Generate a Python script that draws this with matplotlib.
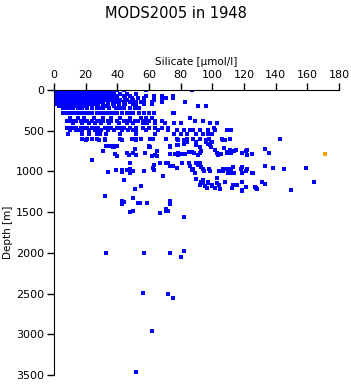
import numpy as np
import matplotlib
matplotlib.use("Agg")
import matplotlib.pyplot as plt

# standard-depth rows of the dense upper part: depth [m] -> silicate values
row_depths = [0, 10, 20, 30, 50, 75, 100, 125, 150, 175, 200, 225, 285,
              340, 385, 410, 460, 490, 540, 600, 640, 670, 690]
row_silicate = [
    [2, 4, 6, 8, 10, 12, 14, 16, 18, 20, 22, 24, 26, 28, 30, 32, 34, 37, 40, 44, 58, 87],
    [2, 4, 6, 8, 10, 12, 14, 16, 18, 20, 22, 24, 26, 28, 30, 33],
    [2, 4, 6, 8, 10, 12, 14, 16, 18, 20, 22, 24, 26, 29, 32, 35, 38],
    [2, 4, 6, 8, 10, 12, 14, 16, 18, 20, 22, 24, 27, 30, 34],
    [2, 4, 6, 8, 10, 12, 14, 16, 18, 20, 22, 24, 26, 28, 30, 32, 34, 36, 38, 42, 46, 52],
    [2, 4, 6, 8, 10, 12, 14, 16, 18, 20, 22, 24, 26, 28, 30, 33, 36, 39, 44, 48, 58, 63, 68, 75],
    [2, 4, 6, 8, 10, 12, 14, 16, 18, 20, 22, 24, 26, 28, 30, 32, 34, 37, 40, 45, 49, 53, 57, 63, 71, 75],
    [2, 4, 6, 8, 10, 12, 14, 16, 18, 20, 22, 24, 26, 28, 30, 33, 36, 39, 42, 46, 50, 57, 63, 68],
    [3, 5, 7, 9, 11, 13, 15, 17, 19, 21, 23, 25, 27, 29, 31, 34, 37, 40, 44, 48, 52, 55, 62, 68, 83],
    [2, 4, 6, 8, 10, 12, 14, 16, 18, 20, 22, 24, 26, 28, 31, 34, 37, 41, 45, 50, 57, 62],
    [3, 5, 7, 9, 11, 13, 15, 17, 19, 21, 24, 28, 33, 38, 44, 52, 91, 96],
    [6, 8, 10, 12, 15, 18, 21, 24, 27, 29, 31, 35, 39, 42, 44, 48, 51, 54],
    [6, 8, 10, 12, 14, 16, 18, 20, 22, 24, 27, 30, 32, 35, 37, 40, 43, 46, 48, 50, 54, 57, 60, 63, 75, 76],
    [10, 15, 19, 25, 31, 36, 42, 48, 55, 58, 62, 86],
    [8, 10, 12, 14, 17, 19, 21, 24, 27, 29, 31, 34, 36, 40, 44, 46, 48, 51, 53, 56, 58, 60, 64, 68, 89, 94],
    [12, 18, 22, 26, 30, 35, 41, 46, 50, 56, 59, 64, 70, 76, 80, 98.5, 103],
    [8, 10, 12, 14, 17, 19, 21, 24, 26, 28, 32, 34, 36, 40, 42, 44, 48, 52, 56, 60, 64, 68, 72, 101],
    [10, 14, 16, 18, 22, 26, 28, 30, 34, 38, 43, 47, 50, 52, 58, 66, 72, 78, 82, 86, 88, 92, 97, 102, 109, 112],
    [9, 18, 22, 27, 29, 33, 42, 52, 64, 76, 80, 84, 90, 94, 97, 100],
    [18, 21, 24, 27, 32, 42, 49, 52, 55, 60.6, 62.7, 71, 78, 84, 88, 92, 98, 106, 111, 143],
    [84, 90, 96, 100],
    [77.5, 90, 98.5],
    [33, 36, 38, 40, 60, 73],
]

# individually read stations below ~600 m
scatter_silicate = [
    133, 136, 133, 138.5, 145, 159, 125.5, 131.6, 133, 127, 128, 150, 164,
    106.6, 111, 108, 96, 82.3, 78.5, 78.5, 82, 97, 99, 90, 92, 99,
    60.6, 73, 65, 93, 107.6, 111, 102, 115, 121.7,
    57.5, 62, 65, 64, 73, 76.4, 78.5, 78.5, 80.7, 82.7, 85, 87, 88.7, 91, 92,
    103, 103.5, 105.5, 109, 112, 118.5, 125, 109.5, 114, 121, 122,
    63, 62.7, 67, 70.5, 72, 81, 85.5, 90, 80.7, 92, 75, 73, 86, 91, 93, 113, 118.5,
    63, 78, 87, 88, 94, 98, 107, 112, 118, 122, 109,
    89, 95, 98.5, 104, 107, 110, 112, 114, 118.5, 121, 125,
    69, 90, 103, 94.3, 97.5, 93, 108, 118.5, 94, 97.5, 103, 104, 99.6, 92, 113,
    115.4, 95.5, 100, 121, 127.6, 96.5, 102, 105, 112.6, 118.5, 119,
    20, 28.6, 32, 43, 52, 34, 37, 38, 31, 51.4, 60, 38.5, 39.6, 46, 47.6, 50,
    51.6, 24, 48, 34, 39, 43, 43, 46, 48, 48, 50, 57, 44, 55, 51.4,
    50, 32.4, 43, 44, 43, 53, 54.3, 58.5, 73, 73, 71, 48, 50, 67, 70.5, 72, 82,
    33, 57, 73.5, 82, 80, 56.4, 72, 75.4, 62, 52,
]
scatter_depth = [
    725, 777, 935, 960, 975, 960, 1020, 1130, 1150, 1195, 1220, 1230, 1130,
    610, 605, 615, 615, 615, 615, 680, 660, 660, 640, 675, 700, 695,
    695, 700, 750, 745, 715, 730, 735, 735, 735,
    777, 805, 805, 800, 785, 785, 770, 800, 780, 780, 755, 755, 777, 800, 777,
    777, 800, 780, 777, 777, 777, 790, 755, 745, 750, 800,
    920, 960, 890, 890, 890, 890, 890, 890, 900, 900, 930, 935, 930, 920, 940, 940, 940,
    980, 960, 980, 975, 975, 975, 975, 975, 975, 975, 975,
    1020, 1000, 1000, 1000, 1000, 1020, 1020, 1020, 1020, 1000, 1020,
    1055, 1095, 1085, 1100, 1125, 1125, 1125, 1135, 1145, 1145, 1145, 1165, 1165, 1165, 1165,
    1165, 1180, 1180, 1195, 1205, 1205, 1205, 1210, 1205, 1227, 1245,
    615, 615, 615, 615, 615, 690, 700, 705, 750, 728, 695, 785, 805, 777, 793, 770,
    793, 860, 890, 1010, 985, 980, 1005, 985, 975, 1020, 990, 1000, 1110, 1180, 1210,
    1320, 1305, 1360, 1380, 1400, 1390, 1390, 1390, 1360, 1400, 1460, 1500, 1490, 1505, 1480, 1480, 1555,
    2000, 2000, 2000, 1980, 2050, 2495, 2505, 2560, 2960, 3465,
]

# flagged value (orange)
flag_silicate = [171]
flag_depth = [790]

si = [s for vals in row_silicate for s in vals] + scatter_silicate
dep = [d for d, vals in zip(row_depths, row_silicate) for _ in vals] + scatter_depth

plt.rcParams['font.family'] = ['DejaVu Sans']

fig = plt.figure(figsize=(3.51, 3.84), dpi=100)
ax = fig.add_axes([0.1538, 0.0234, 0.812, 0.742])

ax.scatter(si, dep, s=6.5, marker='s', color='#0000ff', linewidths=0, antialiased=False)
ax.scatter(flag_silicate, flag_depth, s=6.5, marker='s', color='#ffa500', linewidths=0,
           antialiased=False)

ax.set_xlim(0, 180)
ax.set_ylim(3500, 0)
ax.set_xticks(np.arange(0, 181, 20))
ax.set_yticks(np.arange(0, 3501, 500))
ax.xaxis.tick_top()
ax.xaxis.set_label_position('top')
ax.tick_params(axis='both', direction='out', length=5, width=1, labelsize=8, pad=2)
ax.spines['right'].set_visible(False)
ax.spines['bottom'].set_visible(False)
ax.set_xlabel('Silicate [µmol/l]', fontsize=7.5, labelpad=4)
ax.set_ylabel('Depth [m]', fontsize=7.5, labelpad=2)

fig.text(0.5, 0.965, 'MODS2005 in 1948', ha='center', va='center', fontsize=10.5)

fig.savefig('out.png', dpi=100)
